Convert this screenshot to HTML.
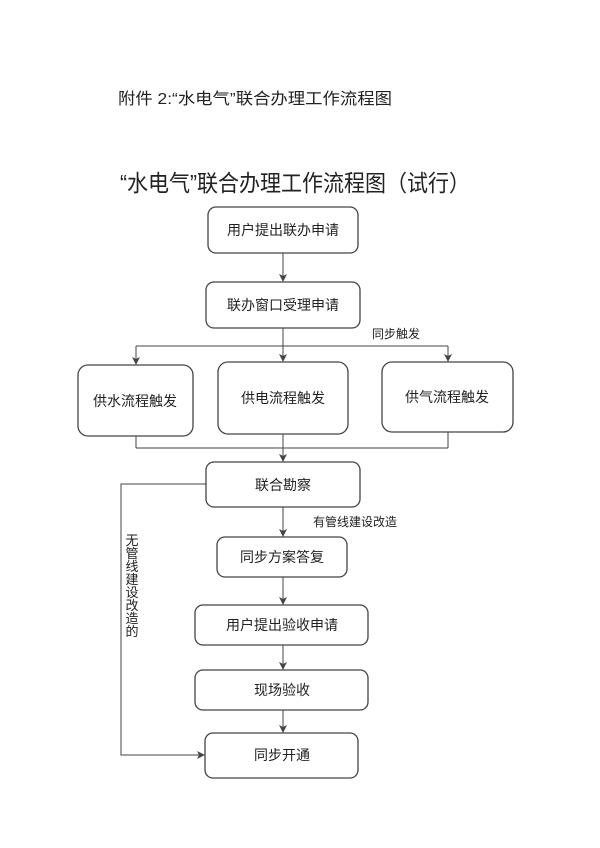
<!DOCTYPE html>
<html><head><meta charset="utf-8"><style>
html,body{margin:0;padding:0;background:#fff;}
svg{display:block;}
text{font-family:"Liberation Sans","Noto Sans CJK SC",sans-serif;fill:#222;}
</style></head><body>
<svg width="600" height="848" viewBox="0 0 600 848" xmlns="http://www.w3.org/2000/svg">
<defs><marker id="a" markerWidth="8" markerHeight="8" refX="7" refY="4" orient="auto" markerUnits="userSpaceOnUse"><path d="M0,0 L8,4 L0,8 L2,4 Z" fill="#444"/></marker></defs>
<text x="118" y="104" font-size="16" textLength="274" lengthAdjust="spacingAndGlyphs">附件 2:“水电气”联合办理工作流程图</text>
<text x="120" y="191" font-size="23" textLength="350" lengthAdjust="spacingAndGlyphs">“水电气”联合办理工作流程图（试行）</text>
<g fill="none" stroke="#444" stroke-width="1.3">
<rect x="208" y="207" width="150" height="46" rx="8"/>
<rect x="206" y="282" width="154" height="46" rx="8"/>
<rect x="78" y="365" width="115" height="71" rx="10"/>
<rect x="218" y="362" width="130" height="72" rx="10"/>
<rect x="382" y="362" width="131" height="70" rx="10"/>
<rect x="206" y="462" width="154" height="45" rx="8"/>
<rect x="217" y="537" width="130" height="40" rx="8"/>
<rect x="195" y="605" width="173" height="40" rx="8"/>
<rect x="195" y="670" width="173" height="40" rx="8"/>
<rect x="205" y="733" width="153" height="45" rx="8"/>
</g>
<g fill="none" stroke="#444" stroke-width="1">
<line x1="283" y1="253" x2="283" y2="281" marker-end="url(#a)"/>
<line x1="283" y1="328" x2="283" y2="361" marker-end="url(#a)"/>
<line x1="136" y1="346" x2="448" y2="346"/>
<line x1="136" y1="346" x2="136" y2="364" marker-end="url(#a)"/>
<line x1="448" y1="346" x2="448" y2="361" marker-end="url(#a)"/>
<line x1="136" y1="436" x2="136" y2="448"/>
<line x1="448" y1="432" x2="448" y2="448"/>
<line x1="136" y1="448" x2="448" y2="448"/>
<line x1="283" y1="434" x2="283" y2="461" marker-end="url(#a)"/>
<line x1="283" y1="507" x2="283" y2="536" marker-end="url(#a)"/>
<line x1="283" y1="577" x2="283" y2="604" marker-end="url(#a)"/>
<line x1="283" y1="645" x2="283" y2="669" marker-end="url(#a)"/>
<line x1="283" y1="710" x2="283" y2="732" marker-end="url(#a)"/>
<polyline points="206,484 121,484 121,755 204,755" marker-end="url(#a)"/>
</g>
<g font-size="14" text-anchor="middle">
<text x="283" y="235">用户提出联办申请</text>
<text x="283" y="310">联办窗口受理申请</text>
<text x="135" y="406">供水流程触发</text>
<text x="283" y="403">供电流程触发</text>
<text x="447" y="402">供气流程触发</text>
<text x="283" y="490">联合勘察</text>
<text x="282" y="562">同步方案答复</text>
<text x="282" y="630">用户提出验收申请</text>
<text x="282" y="695">现场验收</text>
<text x="282" y="760">同步开通</text>
</g>
<text x="372" y="338" font-size="12">同步触发</text>
<text x="313" y="526" font-size="12">有管线建设改造</text>
<g font-size="13" text-anchor="middle">
<text x="132" y="545">无</text><text x="132" y="558">管</text><text x="132" y="571">线</text><text x="132" y="584">建</text><text x="132" y="597">设</text><text x="132" y="610">改</text><text x="132" y="623">造</text><text x="132" y="636">的</text>
</g>
</svg>
</body></html>
